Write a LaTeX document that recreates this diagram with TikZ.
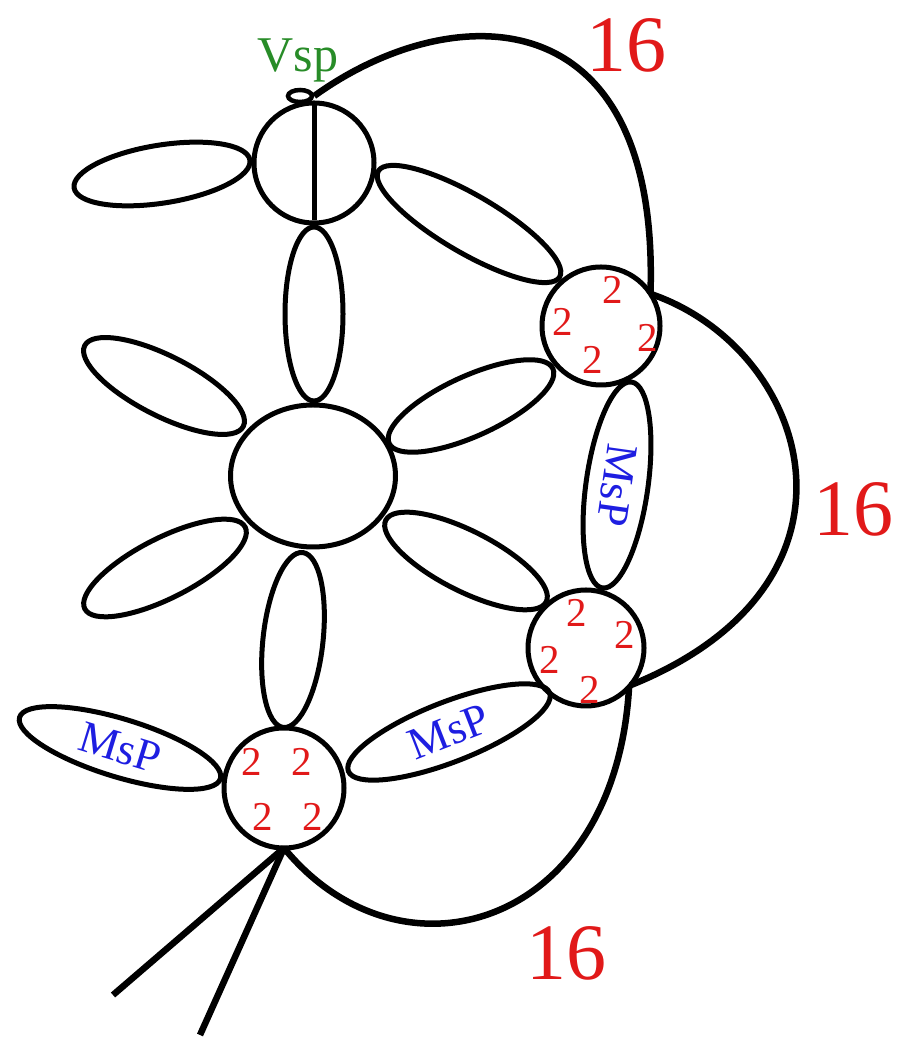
\documentclass[tikz,border=0pt]{standalone}
\usepackage{fontspec}
\setmainfont{Liberation Serif}
\usetikzlibrary{shapes.geometric}
\definecolor{myred}{RGB}{225,25,25}
\definecolor{myblue}{RGB}{30,30,225}
\definecolor{mygreen}{RGB}{40,140,40}
\begin{document}
\begin{tikzpicture}[x=1pt,y=1pt,
  vert/.style={draw, line width=5pt, circle, inner sep=0pt, outer sep=0pt, minimum size=#1},
  prop/.style n args={3}{draw, line width=5pt, ellipse, inner sep=0pt, outer sep=0pt,
    minimum width=#1, minimum height=#2, rotate=#3},
  thick16/.style={line width=6.5pt},
  two/.style={text=myred, font=\fontsize{41}{41}\selectfont, inner sep=0pt},
  msp/.style={text=myblue, font=\fontsize{45}{45}\selectfont},
  sixteen/.style={text=myred, font=\fontsize{80}{80}\selectfont, inner sep=0pt}]
\path[use as bounding box] (0,0) rectangle (908,1038);

% vertices
\node[vert=120] (T) at (314,875) {};
\node[vert=118] (R1) at (601,712) {};
\node[vert=116] (R2) at (586,390) {};
\node[vert=120] (B) at (284,250) {};
\node[draw, line width=5pt, ellipse, inner sep=0pt, minimum width=165, minimum height=142] (C) at (313,562) {};
\node[draw, line width=4.5pt, ellipse, inner sep=0pt, minimum width=24, minimum height=12] (loop) at (300,942) {};

% propagators
\node[prop={178}{58}{9}] (L1) at (162,864) {};
\node[prop={178}{60}{-27}] (UL) at (164,652) {};
\node[prop={180}{60}{27}] (LL) at (165,470) {};
\node[prop={174}{58}{90}] (V1) at (314,724) {};
\node[prop={176}{60}{83.7}] (V2) at (293,398) {};
\node[prop={210}{58}{-30.3}] (UR) at (469,814) {};
\node[prop={180}{60}{24.5}] (Rup) at (471,632) {};
\node[prop={180}{60}{-27}] (Rlo) at (466,477) {};
\node[prop={208}{62}{-98}, msp] (M1) at (617,553) {MsP};
\node[prop={216}{60}{21.3}, msp] (M2) at (449,306) {MsP};
\node[prop={210}{58}{-17}, msp] (M3) at (120,290) {MsP};

% line inside top vertex
\coordinate (tb) at (314,818);
\draw[line width=5pt] (T.north) -- (tb);

% thick lines
\draw[thick16] (loop.east) .. controls (450,1040) and (660,1045) .. (R1.33);
\draw[thick16] (R1.33) .. controls (810,690) and (885,455) .. (R2.-40);
\draw[thick16] (R2.-42) .. controls (615,108) and (400,48) .. (B.south);
\coordinate (e1) at (113,43);
\coordinate (e2) at (200,3);
\draw[thick16] (B.south) -- (e1);
\draw[thick16] (B.south) -- (e2);

% labels
\node[text=mygreen, font=\fontsize{50}{50}\selectfont, anchor=base, inner sep=0pt] (vsp) at (298,966) {Vsp};
\node[sixteen] (s1) at (626,993) {16};
\node[sixteen] (s2) at (853,529) {16};
\node[sixteen] (s3) at (566,85) {16};

\node[two] (a1) at (613,748) {2};
\node[two] (a2) at (563,716) {2};
\node[two] (a3) at (648,700) {2};
\node[two] (a4) at (593,678) {2};
\node[two] (b1) at (577,425) {2};
\node[two] (b2) at (625,403) {2};
\node[two] (b3) at (550,378) {2};
\node[two] (b4) at (590,348) {2};
\node[two] (c1) at (252,276) {2};
\node[two] (c2) at (302,276) {2};
\node[two] (c3) at (263,221) {2};
\node[two] (c4) at (313,221) {2};
\end{tikzpicture}
\end{document}
